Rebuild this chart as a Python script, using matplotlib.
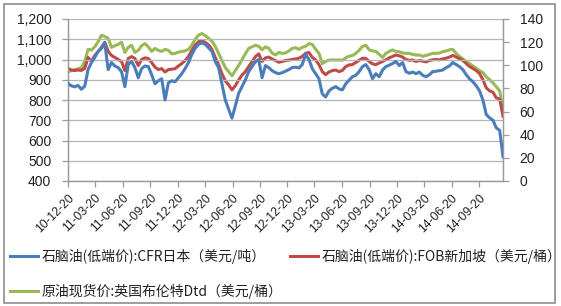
import matplotlib
matplotlib.use("Agg")
import matplotlib.pyplot as plt
import matplotlib.dates as mdates
import pandas as pd
from matplotlib.patches import Rectangle

# ---- data ----
start_date = "2010-12-20"
end_date = "2014-12-08"

naphtha_cfr_japan = [  # USD/ton, left axis
    882, 870, 865, 872, 853, 868, 950, 985, 1010, 1040,
    1055, 1080, 950, 985, 968, 960, 940, 866, 975, 990,
    960, 910, 955, 968, 965, 925, 880, 895, 905, 800,
    885, 895, 890, 910, 930, 955, 985, 1025, 1055, 1075,
    1082, 1075, 1058, 1040, 990, 960, 880, 800, 755, 710,
    770, 833, 866, 899, 940, 965, 989, 1000, 910, 970,
    960, 945, 935, 930, 935, 942, 950, 960, 962, 958,
    975, 1025, 1000, 955, 930, 905, 830, 815, 845, 858,
    866, 855, 850, 880, 898, 915, 922, 940, 965, 975,
    950, 905, 930, 915, 948, 965, 972, 980, 990, 970,
    985, 940, 932, 938, 930, 938, 922, 915, 925, 940,
    942, 945, 948, 960, 968, 985, 975, 965, 950, 925,
    905, 890, 870, 845, 800, 728, 712, 700, 662, 650,
    520,
]

naphtha_fob_singapore = [  # USD/bbl, right axis
    97.3, 95.9, 95.4, 95.9, 95.6, 97.3, 106.8, 103.3, 108.5, 111.8,
    115.5, 119.9, 112.0, 108.5, 106.8, 105.0, 103.3, 95.4, 105.9, 107.5,
    105.9, 99.8, 105.0, 106.4, 105.9, 102.4, 98.4, 96.3, 97.1, 94.2,
    96.3, 96.6, 97.1, 99.4, 101.5, 104.1, 107.6, 112.9, 117.3, 120.4,
    121.1, 119.9, 117.6, 113.8, 106.8, 100.6, 92.8, 86.6, 83.1, 78.8,
    82.3, 87.3, 91.5, 94.5, 98.9, 103.1, 107.5, 109.9, 103.3, 106.4,
    107.1, 105.4, 104.1, 102.6, 103.3, 104.1, 104.5, 105.0, 105.5, 106.1,
    107.6, 110.3, 111.1, 106.8, 104.7, 100.6, 94.5, 91.9, 94.2, 95.4,
    95.9, 94.5, 95.6, 98.9, 100.3, 100.6, 102.4, 104.1, 106.1, 105.9,
    103.3, 101.2, 100.6, 101.9, 103.3, 104.7, 106.4, 107.6, 108.9, 108.2,
    107.1, 105.0, 104.3, 104.5, 103.3, 104.1, 103.6, 102.9, 104.1, 104.7,
    105.0, 104.7, 105.5, 106.1, 107.1, 108.5, 107.1, 105.7, 104.1, 101.5,
    98.9, 97.3, 95.4, 92.8, 87.5, 80.5, 77.9, 76.7, 71.8, 70.9,
    56.0,
]

brent_dtd = [  # USD/bbl, right axis
    94.5, 95.4, 96.3, 97.1, 97.7, 103.3, 113.8, 113.2, 116.0, 120.4,
    126.0, 124.8, 123.4, 115.5, 116.9, 118.1, 119.9, 111.1, 115.5, 117.3,
    111.1, 112.9, 116.9, 118.7, 115.9, 112.0, 114.6, 112.9, 112.0, 113.8,
    112.9, 109.9, 110.3, 111.3, 112.0, 112.4, 113.8, 117.3, 122.5, 126.0,
    127.4, 125.7, 123.4, 120.8, 116.4, 110.3, 104.1, 98.0, 94.5, 91.0,
    95.4, 99.8, 105.0, 109.9, 114.6, 115.9, 117.3, 116.4, 113.4, 115.9,
    114.6, 110.6, 108.9, 111.1, 110.3, 110.6, 112.4, 114.6, 115.2, 113.8,
    115.5, 116.4, 118.7, 118.1, 113.8, 110.3, 101.5, 103.3, 104.5, 104.7,
    104.5, 104.7, 104.3, 106.4, 107.8, 108.5, 110.3, 112.9, 116.4, 117.3,
    113.4, 112.4, 112.0, 109.4, 106.8, 110.3, 112.0, 113.2, 112.0, 111.7,
    110.6, 110.3, 110.3, 109.4, 108.9, 108.9, 107.8, 108.5, 109.4, 110.3,
    110.3, 110.6, 111.7, 112.4, 113.4, 113.8, 110.3, 107.6, 105.5, 103.3,
    101.5, 99.4, 97.3, 95.4, 93.6, 90.1, 87.5, 84.9, 81.4, 77.9,
    63.0,
]

tick_dates = ["2010-12-20", "2011-03-20", "2011-06-20", "2011-09-20",
              "2011-12-20", "2012-03-20", "2012-06-20", "2012-09-20",
              "2012-12-20", "2013-03-20", "2013-06-20", "2013-09-20",
              "2013-12-20", "2014-03-20", "2014-06-20", "2014-09-20"]
tick_labels = ["10-12-20", "11-03-20", "11-06-20", "11-09-20", "11-12-20",
               "12-03-20", "12-06-20", "12-09-20", "12-12-20", "13-03-20",
               "13-06-20", "13-09-20", "13-12-20", "14-03-20", "14-06-20",
               "14-09-20"]

labels = ["石脑油(低端价):CFR日本（美元/吨）",
          "石脑油(低端价):FOB新加坡（美元/桶）",
          "原油现货价:英国布伦特Dtd（美元/桶）"]
colors = ["#4A7EBB", "#BE4B48", "#98B954"]

# ---- figure ----
dates = pd.date_range(start_date, end_date, periods=len(naphtha_cfr_japan))

fig = plt.figure(figsize=(5.61, 3.06), dpi=100)
fig.patch.set_facecolor("white")
ax = fig.add_axes([68/561, 1-181/306, (503-68)/561, (181-19)/306])
ax2 = ax.twinx()

grid_c = "#B4B4B4"
ax.set_ylim(400, 1200)
ax.set_yticks(range(400, 1201, 100))
ax.set_yticklabels([f"{v:,}" for v in range(400, 1201, 100)])
ax2.set_ylim(0, 140)
ax2.set_yticks(range(0, 141, 20))
ax.yaxis.grid(True, color=grid_c, lw=0.9)
ax.set_axisbelow(True)

l1, = ax.plot(dates, naphtha_cfr_japan, color=colors[0], lw=2.2, zorder=3)
l2, = ax2.plot(dates, naphtha_fob_singapore, color=colors[1], lw=2.2, zorder=3)
l3, = ax2.plot(dates, brent_dtd, color=colors[2], lw=2.2, zorder=2)
ax.set_zorder(ax2.get_zorder() + 1)
ax.patch.set_visible(False)

ax.set_xlim(dates[0], dates[-1])
ax.set_xticks(pd.to_datetime(tick_dates))
ax.set_xticklabels(tick_labels, rotation=45, ha="right", rotation_mode="anchor",
                   fontsize=8.7, color="#222222", family=["Liberation Sans"])

for a in (ax, ax2):
    for s in ("top",):
        a.spines[s].set_visible(False)
    for s in ("left", "right", "bottom"):
        a.spines[s].set_color("#9A9A9A")
        a.spines[s].set_linewidth(0.9)
    a.tick_params(colors="#9A9A9A", length=4, width=0.9)
ax.tick_params(axis="y", labelsize=10, labelcolor="#222222", pad=8)
ax.tick_params(axis="x", labelcolor="#222222", pad=4)
ax2.tick_params(axis="y", labelsize=10, labelcolor="#222222", pad=8)
for t in ax.get_yticklabels() + ax2.get_yticklabels():
    t.set_family(["Liberation Sans"])

fig.legend([l1, l3, l2], [labels[0], labels[2], labels[1]], ncol=2,
           loc="upper left", bbox_to_anchor=(10/561, 1-249/306),
           frameon=False, handlelength=2.0, handletextpad=0.3,
           columnspacing=0.5, labelspacing=1.4, borderpad=0, borderaxespad=0,
           prop={"family": ["Noto Sans CJK SC", "DejaVu Sans"], "size": 10},
           labelcolor="#222222")

fig.patches.append(Rectangle((4/561, 3/306), 551/561, 299/306,
                             transform=fig.transFigure, fill=False,
                             edgecolor="#8C8C8C", lw=1.2))

fig.savefig("out.png", dpi=100)
